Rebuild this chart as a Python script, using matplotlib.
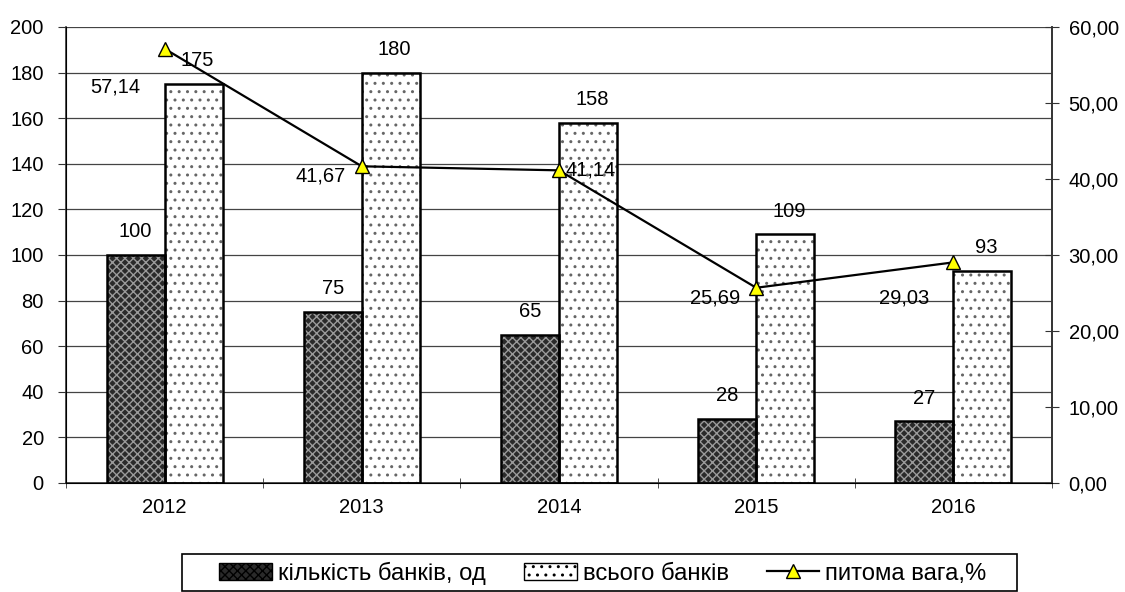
import matplotlib
matplotlib.use("Agg")
import matplotlib.pyplot as plt
import numpy as np
from matplotlib.patches import Patch, Rectangle
from matplotlib.lines import Line2D

plt.rcParams['font.family'] = ['Liberation Sans', 'DejaVu Sans']
plt.rcParams['hatch.linewidth'] = 1.0

years = ["2012", "2013", "2014", "2015", "2016"]
banks_count = [100, 75, 65, 28, 27]
banks_total = [175, 180, 158, 109, 93]
share_pct = [57.14, 41.67, 41.14, 25.69, 29.03]
share_labels = ["57,14", "41,67", "41,14", "25,69", "29,03"]

DARK_FACE, DARK_HATCH = '#2a2a2a', '#9a9a9a'
LIGHT_FACE, LIGHT_HATCH = 'white', '#666666'
W, H = 1125, 592

fig = plt.figure(figsize=(W / 100, H / 100), dpi=100)
ax = fig.add_axes([66/W, 1-483/H, 986/W, 456/H])
x = np.arange(len(years))
w = 0.294

# hatched fills first, then plain outlines on top
ax.bar(x - w/2, banks_count, w, color=DARK_FACE, hatch='xxxx', edgecolor=DARK_HATCH, linewidth=0, zorder=2)
ax.bar(x - w/2, banks_count, w, fill=False, edgecolor='black', linewidth=1.8, zorder=3)
ax.bar(x + w/2, banks_total, w, color=LIGHT_FACE, hatch='..', edgecolor=LIGHT_HATCH, linewidth=0, zorder=2)
ax.bar(x + w/2, banks_total, w, fill=False, edgecolor='black', linewidth=1.8, zorder=3)

for xi, v in zip(x, banks_count):
    ax.text(xi - w/2, v + 6, str(v), ha='center', va='bottom', fontsize=14.5)
for xi, v in zip(x, banks_total):
    ax.text(xi + w/2 + 0.02, v + 6, str(v), ha='center', va='bottom', fontsize=14.5)

ax.set_xlim(-0.5, len(years) - 0.5)
ax.set_ylim(0, 200)
ax.set_yticks(range(0, 201, 20))
ax.yaxis.grid(True, color='#444444', linewidth=0.9, zorder=0)
ax.set_axisbelow(True)
ax.set_xticks(x)
ax.set_xticklabels(years, fontsize=14.5)
ax.set_xticks(np.arange(-0.5, len(years)), minor=True)
ax.tick_params(axis='x', which='major', length=0, pad=11)
ax.tick_params(axis='x', which='minor', length=7, direction='inout', color='#333333')
ax.tick_params(axis='y', labelsize=14.5, length=6, direction='out', pad=10, color='#333333')
ax.spines['top'].set_visible(False)
for s in ['left', 'right', 'bottom']:
    ax.spines[s].set_color('#333333')
    ax.spines[s].set_linewidth(1.2)

ax2 = ax.twinx()
ax2.set_ylim(0, 60)
ax2.set_yticks(range(0, 61, 10))
ax2.set_yticklabels([f"{v},00" for v in range(0, 61, 10)], fontsize=14.5)
ax2.tick_params(axis='y', length=10, direction='inout', pad=7, color='#333333')
ax2.spines['top'].set_visible(False)
ax2.spines['right'].set_color('#333333')
ax2.spines['right'].set_linewidth(1.2)
ax2.plot(x, share_pct, color='black', linewidth=1.6, marker='^', markersize=10,
         markerfacecolor='#ffff00', markeredgecolor='black', zorder=5)

offsets = [(-0.25, -5.0), (-0.21, -1.3), (0.16, 0.05), (-0.21, -1.4), (-0.25, -4.7)]
for xi, v, lab, (dx, dy) in zip(x, share_pct, share_labels, offsets):
    ax2.text(xi + dx, v + dy, lab, ha='center', va='center', fontsize=14.5)

handles = [
    Patch(facecolor=DARK_FACE, hatch='xxxx', edgecolor='black', linewidth=1),
    Patch(facecolor=LIGHT_FACE, hatch='..', edgecolor='black', linewidth=1),
    Line2D([], [], color='black', linewidth=1.6, marker='^', markersize=10,
           markerfacecolor='#ffff00', markeredgecolor='black'),
]
leg = fig.legend(handles, ["кількість банків, од", "всього банків", "питома вага,%"],
                 loc='center', bbox_to_anchor=(603/W, 1-573/H), ncol=3,
                 fontsize=17.2, frameon=False, handlelength=2.2,
                 handleheight=0.72, handletextpad=0.25, columnspacing=1.6,
                 borderpad=0, borderaxespad=0)

# legend frame
fig.patches.append(Rectangle((182/W, 1-591/H), (1017-182)/W, (591-554)/H,
                             transform=fig.transFigure, fill=False,
                             edgecolor='black', linewidth=1.2))

fig.savefig("out.png", dpi=100)
